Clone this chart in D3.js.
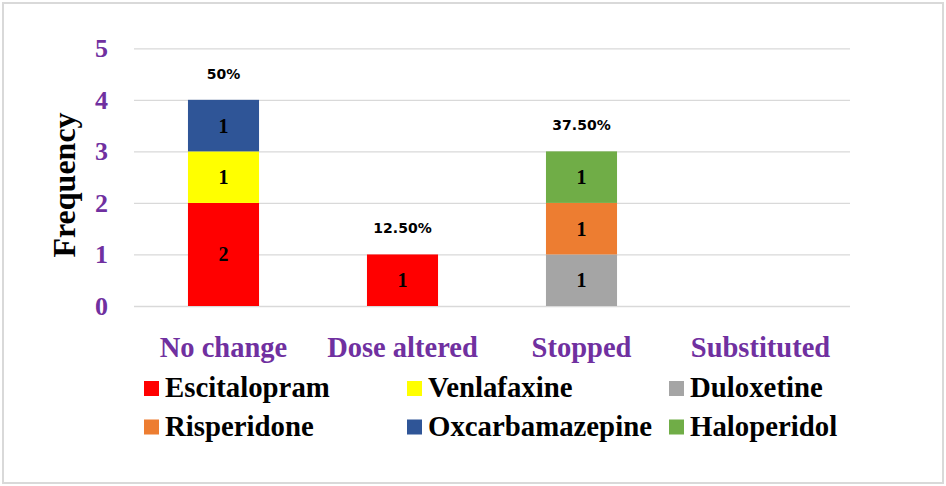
<!DOCTYPE html>
<html>
<head>
<meta charset="utf-8">
<script src="https://cdn.jsdelivr.net/npm/d3@7"></script>
<style>
  body { margin: 0; background: #fff; }
  svg { display: block; }
</style>
</head>
<body>
<div id="chart"></div>
<script>
const categories = ["No change", "Dose altered", "Stopped", "Substituted"];
const drugs = ["Escitalopram", "Venlafaxine", "Duloxetine", "Risperidone", "Oxcarbamazepine", "Haloperidol"];
const drugColors = ["#ff0000", "#ffff00", "#a5a5a5", "#ed7d31", "#2f5597", "#70ad47"];

// counts per drug, one per category
const escitalopram = [2, 1, 0, 0];
const venlafaxine = [1, 0, 0, 0];
const duloxetine = [0, 0, 1, 0];
const risperidone = [0, 0, 1, 0];
const oxcarbamazepine = [1, 0, 0, 0];
const haloperidol = [0, 0, 1, 0];

const percentLabels = ["50%", "12.50%", "37.50%", ""];
const yTicks = [0, 1, 2, 3, 4, 5];

const seriesValues = [escitalopram, venlafaxine, duloxetine, risperidone, oxcarbamazepine, haloperidol];

const table = categories.map((c, i) => {
  const row = { category: c };
  drugs.forEach((d, j) => (row[d] = seriesValues[j][i]));
  return row;
});

const width = 946;
const height = 486;
const margin = { top: 48.3, right: 96, bottom: 180, left: 134 };
const purple = "#7030a0";
const serif = "'Liberation Serif', 'Times New Roman', serif";

const svg = d3
  .select("#chart")
  .append("svg")
  .attr("width", width)
  .attr("height", height);

// outer frame
svg
  .append("rect")
  .attr("x", 3)
  .attr("y", 3)
  .attr("width", 940)
  .attr("height", 480)
  .attr("fill", "#fff")
  .attr("stroke", "#d9d9d9")
  .attr("stroke-width", 2);

const xScale = d3
  .scaleBand()
  .domain(categories)
  .range([margin.left, width - margin.right])
  .paddingInner(0.603)
  .paddingOuter(0.3015);

const yScale = d3
  .scaleLinear()
  .domain([0, 5])
  .range([306, margin.top]);

const colorScale = d3.scaleOrdinal().domain(drugs).range(drugColors);

// gridlines
const yAxis = d3
  .axisLeft(yScale)
  .tickValues(yTicks)
  .tickSize(-(width - margin.left - margin.right))
  .tickFormat("");

svg
  .append("g")
  .attr("transform", `translate(${margin.left},0)`)
  .call(yAxis)
  .call((g) => g.select(".domain").remove())
  .call((g) => g.selectAll(".tick line").attr("stroke", "#d9d9d9").attr("stroke-width", 1.3));

// y tick labels
svg
  .append("g")
  .selectAll("text")
  .data(yTicks)
  .enter()
  .append("text")
  .attr("x", 108)
  .attr("y", (d) => yScale(d) + 9)
  .attr("text-anchor", "end")
  .attr("font-family", serif)
  .attr("font-weight", "bold")
  .attr("font-size", "26px")
  .attr("fill", purple)
  .text((d) => d);

// y label
svg
  .append("text")
  .attr("transform", "translate(75,185) rotate(-90)")
  .attr("text-anchor", "middle")
  .attr("font-family", serif)
  .attr("font-weight", "bold")
  .attr("font-size", "32px")
  .attr("fill", "#000")
  .text("Frequency");

// stacked bars
const stacked = d3.stack().keys(drugs)(table);

const layers = svg
  .append("g")
  .selectAll("g")
  .data(stacked)
  .enter()
  .append("g")
  .attr("fill", (d) => colorScale(d.key));

layers
  .selectAll("rect")
  .data((d) => d.filter((p) => p[1] - p[0] > 0))
  .enter()
  .append("rect")
  .attr("x", (p) => xScale(p.data.category))
  .attr("width", xScale.bandwidth())
  .attr("y", (p) => yScale(p[1]))
  .attr("height", (p) => yScale(p[0]) - yScale(p[1]));

layers
  .selectAll("text")
  .data((d) => d.filter((p) => p[1] - p[0] > 0))
  .enter()
  .append("text")
  .attr("x", (p) => xScale(p.data.category) + xScale.bandwidth() / 2)
  .attr("y", (p) => yScale((p[0] + p[1]) / 2) + 7)
  .attr("text-anchor", "middle")
  .attr("font-family", serif)
  .attr("font-weight", "bold")
  .attr("font-size", "20px")
  .attr("fill", "#000")
  .text((p) => p[1] - p[0]);

// percent labels above each stack
const totals = categories.map((c, i) => d3.sum(seriesValues, (s) => s[i]));

svg
  .append("g")
  .selectAll("text")
  .data(categories)
  .enter()
  .append("text")
  .attr("x", (d) => xScale(d) + xScale.bandwidth() / 2)
  .attr("y", (d, i) => yScale(totals[i]) - 21)
  .attr("text-anchor", "middle")
  .attr("font-family", "'DejaVu Sans', Verdana, sans-serif")
  .attr("font-weight", "bold")
  .attr("font-size", "14px")
  .attr("fill", "#000")
  .text((d, i) => percentLabels[i]);

// category labels
svg
  .append("g")
  .selectAll("text")
  .data(categories)
  .enter()
  .append("text")
  .attr("x", (d) => xScale(d) + xScale.bandwidth() / 2)
  .attr("y", 357)
  .attr("text-anchor", "middle")
  .attr("font-family", serif)
  .attr("font-weight", "bold")
  .attr("font-size", "28.5px")
  .attr("fill", purple)
  .text((d) => d);

// legend, 3 columns x 2 rows
const legendCols = [144, 407, 669];
const legendRows = [381, 419.5];

const legend = svg
  .append("g")
  .selectAll("g")
  .data(drugs)
  .enter()
  .append("g")
  .attr("transform", (d, i) => `translate(${legendCols[i % 3]},${legendRows[Math.floor(i / 3)]})`);

legend
  .append("rect")
  .attr("width", 15)
  .attr("height", 15)
  .attr("fill", (d) => colorScale(d));

legend
  .append("text")
  .attr("x", 21)
  .attr("y", 16)
  .attr("font-family", serif)
  .attr("font-weight", "bold")
  .attr("font-size", "28.8px")
  .attr("fill", "#000")
  .text((d) => d);
</script>
</body>
</html>
